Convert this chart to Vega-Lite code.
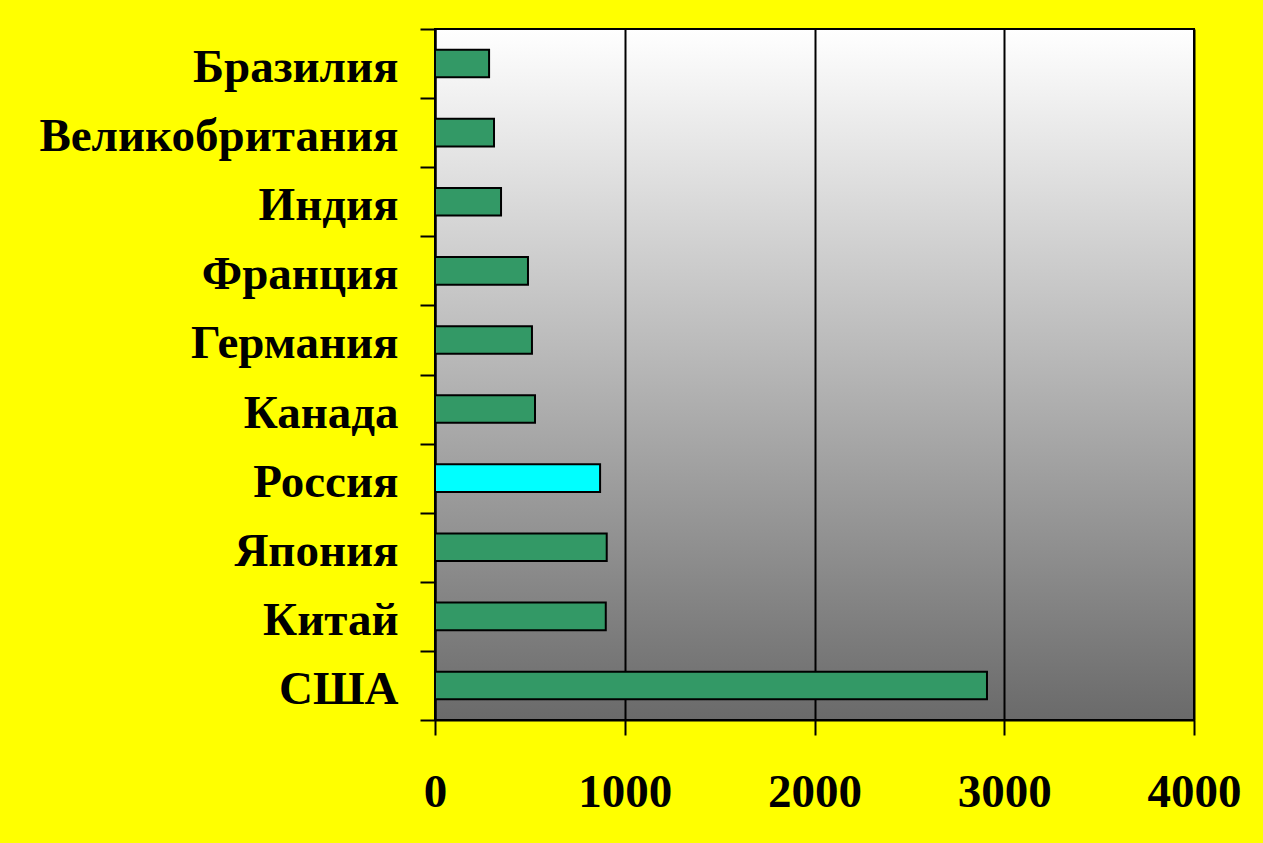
{
  "$schema": "https://vega.github.io/schema/vega-lite/v6.json",
  "autosize": "none",
  "width": 759,
  "height": 691,
  "padding": {"left": 435, "top": 29, "right": 69, "bottom": 123},
  "background": "#ffff00",
  "config": {
    "view": {
      "stroke": "#000000",
      "strokeWidth": 2,
      "fill": {
        "gradient": "linear",
        "x1": 0, "y1": 0, "x2": 0, "y2": 1,
        "stops": [
          {"offset": 0, "color": "#ffffff"},
          {"offset": 1, "color": "#6a6a6a"}
        ]
      }
    },
    "font": "Liberation Serif"
  },
  "data": {
    "values": [
      {"country": "Бразилия", "value": 285, "highlight": "no"},
      {"country": "Великобритания", "value": 311, "highlight": "no"},
      {"country": "Индия", "value": 348, "highlight": "no"},
      {"country": "Франция", "value": 490, "highlight": "no"},
      {"country": "Германия", "value": 511, "highlight": "no"},
      {"country": "Канада", "value": 527, "highlight": "no"},
      {"country": "Россия", "value": 870, "highlight": "yes"},
      {"country": "Япония", "value": 905, "highlight": "no"},
      {"country": "Китай", "value": 900, "highlight": "no"},
      {"country": "США", "value": 2909, "highlight": "no"}
    ]
  },
  "mark": {"type": "bar", "stroke": "#000000", "strokeWidth": 2, "height": {"band": 0.4}},
  "encoding": {
    "y": {
      "field": "country",
      "type": "nominal",
      "sort": null,
      "scale": {"paddingInner": 0, "paddingOuter": 0},
      "axis": {
        "title": null,
        "tickBand": "extent",
        "domain": true,
        "domainColor": "#000000",
        "domainWidth": 2,
        "tickColor": "#000000",
        "tickWidth": 2,
        "tickSize": 15,
        "labelPadding": 22,
        "labelOffset": 4,
        "labelLimit": 0,
        "labelFont": "Liberation Serif",
        "labelFontWeight": "bold",
        "labelFontSize": 47,
        "labelColor": "#000000",
        "grid": false
      }
    },
    "x": {
      "field": "value",
      "type": "quantitative",
      "scale": {"domain": [0, 4000], "nice": false},
      "axis": {
        "title": null,
        "values": [0, 1000, 2000, 3000, 4000],
        "format": "d",
        "domain": true,
        "domainColor": "#000000",
        "domainWidth": 2,
        "tickColor": "#000000",
        "tickWidth": 2,
        "tickSize": 15,
        "labelPadding": 34,
        "labelFlush": false,
        "labelOverlap": false,
        "labelFont": "Liberation Serif",
        "labelFontWeight": "bold",
        "labelFontSize": 47,
        "labelColor": "#000000",
        "grid": true,
        "gridColor": "#000000",
        "gridWidth": 2,
        "gridOpacity": 1
      }
    },
    "color": {
      "field": "highlight",
      "type": "nominal",
      "scale": {"domain": ["no", "yes"], "range": ["#339966", "#00ffff"]},
      "legend": null
    }
  }
}
